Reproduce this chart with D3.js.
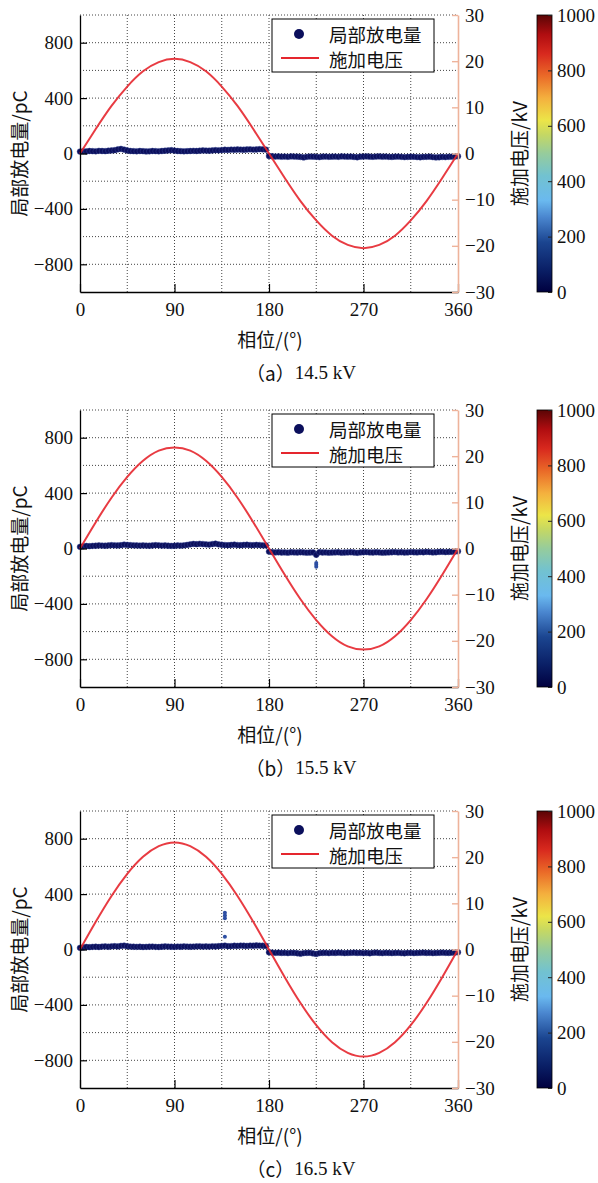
<!DOCTYPE html>
<html>
<head>
<meta charset="utf-8">
<script src="https://cdn.jsdelivr.net/npm/d3@7"></script>
<style>
  body { margin: 0; background: #fff; }
</style>
</head>
<body>
<svg id="canvas" width="598" height="1183"></svg>
<script>
// ---- data ----
var capTags = ["（a）", "（b）", "（c）"];
var capVolts = ["14.5 kV", "15.5 kV", "16.5 kV"];
var legendNames = ["局部放电量", "施加电压"];

var voltPhase = [0, 15, 30, 45, 60, 75, 90, 105, 120, 135, 150, 165, 180, 195, 210, 225, 240, 255, 270, 285, 300, 315, 330, 345, 360];
var voltA = [0, 5.3, 10.3, 14.5, 17.8, 19.8, 20.5, 19.8, 17.8, 14.5, 10.3, 5.3, 0, -5.3, -10.3, -14.5, -17.8, -19.8, -20.5, -19.8, -17.8, -14.5, -10.3, -5.3, 0];
var voltB = [0, 5.7, 11.0, 15.5, 19.0, 21.2, 21.9, 21.2, 19.0, 15.5, 11.0, 5.7, 0, -5.7, -11.0, -15.5, -19.0, -21.2, -21.9, -21.2, -19.0, -15.5, -11.0, -5.7, 0];
var voltC = [0, 6.0, 11.6, 16.4, 20.1, 22.4, 23.2, 22.4, 20.1, 16.4, 11.6, 6.0, 0, -6.0, -11.6, -16.4, -20.1, -22.4, -23.2, -22.4, -20.1, -16.4, -11.6, -6.0, 0];

// PD magnitude (pC), sampled every 3 degrees, 0..360
var pdPhase = d3.range(0, 361, 3);
var pdA = [14, 16, 15, 18, 17, 16, 19, 18, 17, 20, 22, 24, 30, 33, 28, 22, 18, 17, 16, 18,
  17, 15, 16, 18, 17, 16, 18, 20, 22, 24, 21, 18, 17, 16, 17, 18, 19, 18, 20, 22,
  21, 20, 22, 24, 23, 25, 27, 26, 28, 27, 29, 28, 27, 29, 30, 28, 29, 31, 30, 28,
  -18, -20, -22, -21, -23, -22, -24, -21, -22, -23, -25, -28, -24, -22, -23, -24, -26, -23, -22, -24,
  -23, -22, -24, -21, -22, -23, -22, -25, -27, -23, -22, -21, -23, -24, -22, -21, -23, -22, -24, -25,
  -23, -22, -24, -26, -25, -23, -24, -26, -27, -25, -24, -23, -26, -28, -27, -25, -26, -24, -23, -22,
  -20];
var pdB = [12, 16, 18, 17, 19, 20, 22, 21, 20, 22, 24, 23, 22, 24, 28, 26, 24, 23, 22, 21,
  22, 21, 20, 22, 24, 23, 21, 22, 20, 19, 20, 22, 21, 23, 26, 30, 33, 31, 34, 32,
  30, 28, 32, 35, 30, 27, 25, 24, 26, 28, 25, 24, 26, 27, 25, 24, 26, 25, 23, 22,
  -22, -26, -28, -27, -29, -28, -30, -27, -28, -29, -27, -28, -30, -29, -28, -45, -27, -29, -28, -30,
  -29, -28, -27, -30, -29, -28, -27, -29, -31, -28, -27, -26, -28, -29, -27, -28, -30, -29, -28, -27,
  -26, -28, -27, -29, -28, -26, -27, -28, -26, -27, -25, -26, -28, -27, -25, -24, -26, -25, -24, -22,
  -20];
var pdC = [12, 15, 18, 17, 19, 20, 18, 21, 22, 20, 23, 24, 22, 26, 28, 24, 21, 20, 19, 20,
  18, 19, 20, 21, 19, 18, 20, 22, 21, 20, 19, 21, 20, 22, 21, 20, 21, 22, 23, 21,
  22, 21, 23, 22, 24, 26, 28, 24, 25, 27, 26, 28, 27, 26, 28, 27, 29, 28, 27, 26,
  -20, -22, -24, -23, -25, -24, -26, -24, -25, -27, -30, -26, -25, -24, -28, -32, -26, -25, -24, -26,
  -24, -25, -23, -24, -26, -25, -24, -23, -25, -24, -26, -25, -27, -24, -23, -25, -26, -24, -25, -26,
  -25, -24, -26, -27, -25, -24, -26, -25, -24, -23, -25, -24, -26, -25, -24, -23, -24, -25, -23, -22,
  -20];
// isolated discharges [phase, pC]
var outA = [];
var outB = [[225, -105], [225, -118], [225, -132]];
var outC = [[138, 92], [138, 226], [138, 245], [138, 265]];

var qTicks = [-800, -400, 0, 400, 800];
var qGrid = [-800, -600, -400, -200, 0, 200, 400, 600, 800, 1000];
var phaseTicks = [0, 90, 180, 270, 360];
var phaseGrid = [45, 90, 135, 180, 225, 270, 315];
var voltTicks = [-30, -20, -10, 0, 10, 20, 30];
var cbTicks = [0, 200, 400, 600, 800, 1000];

var panels = [
  { tag: capTags[0], kv: capVolts[0], volt: voltA, pd: pdA, out: outA },
  { tag: capTags[1], kv: capVolts[1], volt: voltB, pd: pdB, out: outB },
  { tag: capTags[2], kv: capVolts[2], volt: voltC, pd: pdC, out: outC }
];

// ---- layout ----
var tops = [15, 410, 811];
var plotL = 80, plotR = 458, plotH = 277;
var cbX = 537, cbW = 15;
var serif = "'Liberation Serif', 'Times New Roman', serif";
var cjk = "'Noto Sans CJK SC', sans-serif";
var salmon = "#eeb39b";

var svg = d3.select("#canvas");

// colour bar gradient (jet-like)
var cmap = [
  [0, "#00003f"], [0.08, "#0a1f66"], [0.18, "#1b4590"], [0.27, "#4a86cf"],
  [0.33, "#6ab9ef"], [0.42, "#72c2d0"], [0.5, "#96cc9c"], [0.57, "#c6d862"],
  [0.62, "#ece548"], [0.7, "#f4b03e"], [0.78, "#ea6a28"], [0.86, "#d8291e"],
  [0.93, "#b00d10"], [1, "#5a0505"]
];
var grad = svg.append("defs").append("linearGradient")
  .attr("id", "jet")
  .attr("x1", 0).attr("y1", 1).attr("x2", 0).attr("y2", 0);
grad.selectAll("stop").data(cmap).enter().append("stop")
  .attr("offset", function(d) { return d[0]; })
  .attr("stop-color", function(d) { return d[1]; });

panels.forEach(function(p, k) {
  var top = tops[k];
  var g = svg.append("g").attr("transform", "translate(0," + top + ")");

  var x = d3.scaleLinear().domain([0, 360]).range([plotL, plotR]);
  var y = d3.scaleLinear().domain([-1000, 1000]).range([plotH, 0]);
  var yv = d3.scaleLinear().domain([-30, 30]).range([plotH, 0]);

  // grid
  g.append("g").selectAll("line").data(qGrid).enter().append("line")
    .attr("x1", plotL).attr("x2", plotR)
    .attr("y1", function(d) { return y(d); }).attr("y2", function(d) { return y(d); })
    .attr("stroke", "#444").attr("stroke-width", 1).attr("stroke-dasharray", "1,2");
  g.append("g").selectAll("line").data(phaseGrid).enter().append("line")
    .attr("x1", function(d) { return x(d); }).attr("x2", function(d) { return x(d); })
    .attr("y1", 0).attr("y2", plotH)
    .attr("stroke", "#444").attr("stroke-width", 1).attr("stroke-dasharray", "1,2");

  // PD dots
  g.append("g").selectAll("circle").data(p.pd).enter().append("circle")
    .attr("cx", function(d, i) { return x(pdPhase[i]); })
    .attr("cy", function(d) { return y(d); })
    .attr("r", 2.9)
    .attr("fill", "#0b0f5c")
    .attr("stroke", "#3a4a95").attr("stroke-opacity", 0.45).attr("stroke-width", 1);
  g.append("g").selectAll("circle").data(p.out).enter().append("circle")
    .attr("cx", function(d) { return x(d[0]); })
    .attr("cy", function(d) { return y(d[1]); })
    .attr("r", 2)
    .attr("fill", "#2d4ea2");

  // voltage
  var line = d3.line()
    .x(function(d, i) { return x(voltPhase[i]); })
    .y(function(d) { return yv(d); })
    .curve(d3.curveNatural);
  g.append("path").datum(p.volt)
    .attr("d", line)
    .attr("fill", "none")
    .attr("stroke", "#e5262e")
    .attr("stroke-opacity", 0.9)
    .attr("stroke-width", 2);

  // left axis
  var ax = g.append("g").attr("transform", "translate(" + plotL + ",0)")
    .call(d3.axisLeft(y).tickValues(qTicks).tickSizeInner(-7).tickSizeOuter(0).tickPadding(7));
  // bottom axis
  var bx = g.append("g").attr("transform", "translate(0," + plotH + ")")
    .call(d3.axisBottom(x).tickValues(phaseTicks).tickSizeInner(-8).tickSizeOuter(0).tickPadding(11));
  // right (voltage) axis
  var rx = g.append("g").attr("transform", "translate(" + plotR + ",0)")
    .call(d3.axisRight(yv).tickValues(voltTicks).tickSizeInner(-6).tickSizeOuter(0).tickPadding(7));

  [ax, bx, rx].forEach(function(a) {
    a.attr("font-family", serif).attr("font-size", 19);
    a.selectAll("text").attr("fill", "#111");
  });
  ax.select(".domain").attr("stroke", "#000").attr("stroke-width", 1.3);
  ax.selectAll(".tick line").attr("stroke", "#000").attr("stroke-width", 1.2);
  bx.select(".domain").attr("stroke", "#000").attr("stroke-width", 1.3);
  bx.selectAll(".tick line").attr("stroke", "#000").attr("stroke-width", 1.2);
  rx.select(".domain").attr("stroke", salmon).attr("stroke-width", 1.6);
  rx.selectAll(".tick line").attr("stroke", salmon).attr("stroke-width", 1.4);

  // axis titles
  g.append("text")
    .attr("transform", "translate(18," + (plotH / 2) + ") rotate(-90)")
    .attr("text-anchor", "middle").attr("dominant-baseline", "central")
    .attr("font-family", cjk).attr("font-size", 19).attr("fill", "#111")
    .text("局部放电量/pC");
  g.append("text")
    .attr("transform", "translate(518," + (plotH / 2) + ") rotate(-90)")
    .attr("text-anchor", "middle").attr("dominant-baseline", "central")
    .attr("font-family", cjk).attr("font-size", 19).attr("fill", "#111")
    .text("施加电压/kV");
  g.append("text")
    .attr("x", 270).attr("y", plotH + 46)
    .attr("text-anchor", "middle").attr("dominant-baseline", "central")
    .attr("font-family", cjk).attr("font-size", 19).attr("fill", "#111")
    .text("相位/(°)");
  var cap = g.append("text")
    .attr("x", 301).attr("y", plotH + 80)
    .attr("text-anchor", "middle").attr("dominant-baseline", "central")
    .attr("font-size", 19).attr("fill", "#111");
  cap.append("tspan").attr("font-family", cjk).text(p.tag);
  cap.append("tspan").attr("font-family", serif).text(p.kv);

  // legend
  var lg = g.append("g").attr("transform", "translate(272,4)");
  lg.append("rect").attr("width", 162).attr("height", 53)
    .attr("fill", "#fff").attr("stroke", "#000").attr("stroke-width", 1);
  lg.append("circle").attr("cx", 27).attr("cy", 15).attr("r", 5).attr("fill", "#0b0f5c");
  lg.append("line").attr("x1", 9).attr("x2", 47).attr("y1", 39).attr("y2", 39)
    .attr("stroke", "#e5262e").attr("stroke-width", 2);
  lg.selectAll("text.lab").data(legendNames).enter().append("text")
    .attr("x", 57).attr("y", function(d, i) { return 15 + i * 25; })
    .attr("dominant-baseline", "central")
    .attr("font-family", cjk).attr("font-size", 18.5).attr("fill", "#111")
    .text(function(d) { return d; });

  // colour bar
  var c = d3.scaleLinear().domain([0, 1000]).range([plotH, 0]);
  g.append("rect").attr("x", cbX).attr("y", 0).attr("width", cbW).attr("height", plotH)
    .attr("fill", "url(#jet)").attr("stroke", "#000").attr("stroke-width", 0.8);
  var cx = g.append("g").attr("transform", "translate(" + (cbX + cbW) + ",0)")
    .call(d3.axisRight(c).tickValues(cbTicks).tickFormat(d3.format("d"))
      .tickSizeInner(-4).tickSizeOuter(0).tickPadding(5));
  cx.attr("font-family", serif).attr("font-size", 19);
  cx.select(".domain").remove();
  cx.selectAll(".tick line").attr("stroke", "#222");
  cx.selectAll("text").attr("fill", "#111");
});
</script>
</body>
</html>
